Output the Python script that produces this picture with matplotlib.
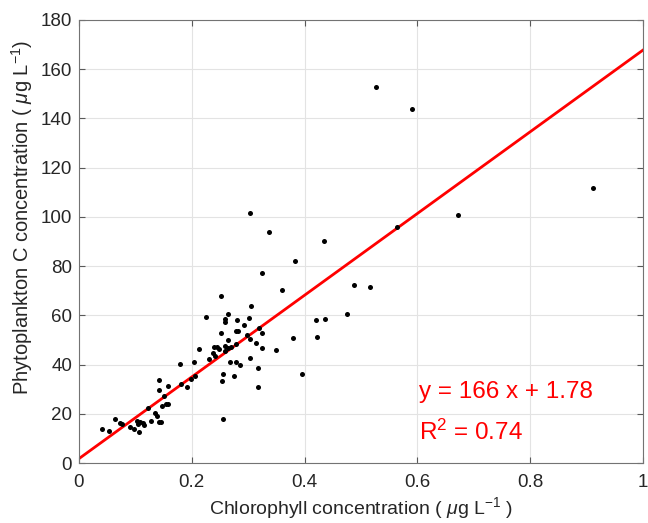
import numpy as np
import matplotlib
matplotlib.use('Agg')
from matplotlib import pyplot as plt

plt.rcParams['font.family'] = ['Liberation Sans', 'DejaVu Sans']
plt.rcParams['mathtext.fontset'] = 'custom'
plt.rcParams['mathtext.rm'] = 'Liberation Sans'
plt.rcParams['mathtext.it'] = 'Liberation Sans:italic'

# chlorophyll (ug/L) vs phytoplankton C (ug/L)
chl = [0.527, 0.591, 0.911, 0.672, 0.563, 0.516, 0.304, 0.336, 0.434, 0.383,
       0.325, 0.360, 0.487, 0.305, 0.302, 0.421, 0.437, 0.475, 0.292, 0.319,
       0.298, 0.324, 0.303, 0.380, 0.422, 0.313, 0.324, 0.349, 0.303, 0.285,
       0.318, 0.395, 0.252, 0.264, 0.226, 0.258, 0.280, 0.259, 0.278, 0.282,
       0.252, 0.264, 0.239, 0.245, 0.248, 0.259, 0.265, 0.270, 0.279, 0.213,
       0.241, 0.259, 0.231, 0.204, 0.179, 0.268, 0.278, 0.255, 0.275, 0.254,
       0.318, 0.206, 0.198, 0.181, 0.191, 0.157, 0.142, 0.142, 0.151, 0.154,
       0.157, 0.147, 0.123, 0.135, 0.139, 0.142, 0.145, 0.128, 0.103, 0.109,
       0.114, 0.116, 0.105, 0.090, 0.098, 0.106, 0.063, 0.073, 0.077, 0.041,
       0.053, 0.256, 0.238]
phyto_c = [152.7, 144.0, 111.7, 100.7, 95.7, 71.5, 101.5, 93.7, 90.3, 82.2,
           77.0, 70.3, 72.3, 63.6, 59.0, 58.2, 58.7, 60.4, 56.0, 54.7,
           52.1, 52.7, 50.2, 50.8, 51.3, 48.6, 46.7, 45.9, 42.6, 39.7,
           38.5, 36.0, 67.8, 60.5, 59.2, 58.7, 58.3, 57.4, 53.7, 53.7,
           52.7, 49.9, 47.2, 47.0, 46.4, 47.5, 46.6, 47.2, 48.3, 46.2,
           43.6, 45.6, 42.4, 40.9, 40.1, 40.9, 41.0, 36.3, 35.2, 33.3,
           30.9, 35.2, 34.2, 32.1, 30.9, 31.4, 33.7, 29.5, 27.3, 24.0,
           24.0, 23.0, 22.5, 20.3, 19.3, 16.5, 16.8, 17.1, 17.1, 16.8,
           16.4, 15.6, 15.7, 14.5, 13.7, 12.7, 17.7, 16.1, 15.8, 13.9,
           13.1, 18.0, 44.6]

slope = 166
intercept = 1.78
r2 = 0.74

fig = plt.figure(figsize=(6.48, 5.23), dpi=100)
ax = fig.add_axes([79/648, 60/523, 564/648, 443/523])

ax.grid(True, color='#e3e3e3', lw=0.8, zorder=0)
ax.set_axisbelow(True)

xf = np.array([0, 1])
ax.plot(xf, slope*xf + intercept, c='#ff0000', lw=2, zorder=2)
ax.scatter(chl, phyto_c, s=13, c='k', lw=0, zorder=3)

ax.set_xlim(0, 1)
ax.set_ylim(0, 180)
ax.set_xticks([0, 0.2, 0.4, 0.6, 0.8, 1])
ax.set_xticklabels(['0', '0.2', '0.4', '0.6', '0.8', '1'])
ax.set_yticks(range(0, 181, 20))

ax.tick_params(direction='in', top=True, right=True, length=4, width=0.8,
               color='0.35', labelsize=13.5, labelcolor='0.15')
ax.tick_params(axis='x', pad=8)
ax.tick_params(axis='y', pad=5)
for s in ax.spines.values():
    s.set_color('0.45')
    s.set_linewidth(0.8)

ax.set_xlabel(r'Chlorophyll concentration ( $\mathit{\mu}$g L$^{-1}$ )', fontsize=14, color='0.15', labelpad=3)
ax.set_ylabel(r'Phytoplankton C concentration ( $\mathit{\mu}$g L$^{-1}$)', fontsize=14.5, color='0.15')
ax.yaxis.set_label_coords(-0.078, 0.555)

ax.text(0.603, 28.9, 'y = %d x + %.2f' % (slope, intercept), color='#ff0000', fontsize=17.5, va='center')
ax.text(0.603, 12.6, r'R$^2$ = %.2f' % r2, color='#ff0000', fontsize=17.5, va='center')

plt.savefig('out.png', dpi=100)
